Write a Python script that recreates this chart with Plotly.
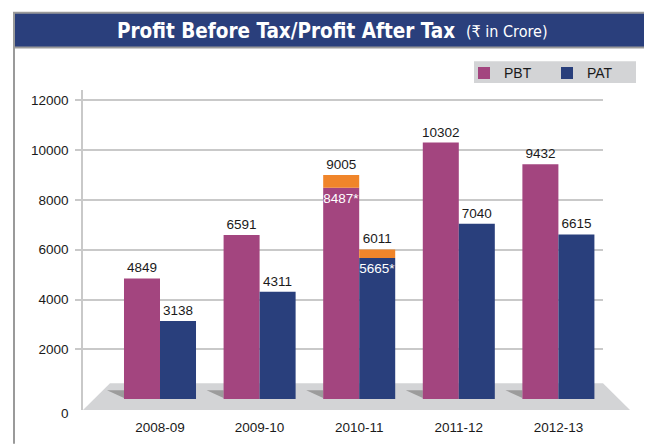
import plotly.graph_objects as go

# ---- data ----
years = ["2008-09", "2009-10", "2010-11", "2011-12", "2012-13"]
pbt = [4849, 6591, 8487, 10302, 9432]
pat = [3138, 4311, 5665, 7040, 6615]
pbt_restated = [None, None, 9005, None, None]
pat_restated = [None, None, 6011, None, None]
ytick_vals = [2000, 4000, 6000, 8000, 10000, 12000]
ytick_text = ["2000", "4000", "6000", "8000", "10000", "12000"]

# ---- colours ----
C_PBT = "#a3457f"
C_PAT = "#293f7c"
C_ORANGE = "#f0852a"
C_BANNER = "#2a3f7c"
C_FLOOR = "#d3d4d6"
C_SHADOW = "#9c9c9c"
C_GRID = "#c9c9c9"
C_FRAME = "#9a9a9a"
FONT = "Liberation Sans, Arial, sans-serif"
NARROW = "DejaVu Sans Condensed, Liberation Sans Narrow, Arial Narrow, sans-serif"

# ---- pixel layout helpers (screen coordinates; page has 8px body margin) ----
OFF = 8
SW, SH = 652, 447
W, H = SW - OFF, SH - OFF
L, R, T, B = 83, 603, 90, 413
Y0PX = 402            # pixel row of value 0 (bars' base)
K = 0.02513           # pixels per unit
ymin = -(B - Y0PX) / K
ymax = (Y0PX - T) / K


def px(x):
    return (x - L) / (R - L)


def py(y):
    return (B - y) / (B - T)


def dy(ypix):
    return (Y0PX - ypix) / K


def label(v, restated):
    return f"{v}*" if restated is not None else f"{v}"


pbt_text = [label(v, r) for v, r in zip(pbt, pbt_restated)]
pat_text = [label(v, r) for v, r in zip(pat, pat_restated)]
pbt_pos = ["inside" if r is not None else "outside" for r in pbt_restated]
pat_pos = ["inside" if r is not None else "outside" for r in pat_restated]

pbt_extra = [(r - v) if r is not None else None for v, r in zip(pbt, pbt_restated)]
pat_extra = [(r - v) if r is not None else None for v, r in zip(pat, pat_restated)]
pbt_extra_text = [f"{r}" if r is not None else "" for r in pbt_restated]
pat_extra_text = [f"{r}" if r is not None else "" for r in pat_restated]

fig = go.Figure()

common = dict(textangle=0, constraintext="none", cliponaxis=False,
              insidetextanchor="end",
              insidetextfont=dict(color="white", size=13.5, family=FONT),
              outsidetextfont=dict(color="#1a1a1a", size=13.5, family=FONT))

fig.add_trace(go.Bar(name="PBT", x=years, y=pbt, marker_color=C_PBT,
                     marker_line_width=0, offsetgroup="a",
                     text=pbt_text, textposition=pbt_pos, **common))
fig.add_trace(go.Bar(name="PAT", x=years, y=pat, marker_color=C_PAT,
                     marker_line_width=0, offsetgroup="b",
                     text=pat_text, textposition=pat_pos, **common))
fig.add_trace(go.Bar(name="PBT restated", x=years, y=pbt_extra, base=pbt,
                     marker_color=C_ORANGE, marker_line_width=0,
                     offsetgroup="a", showlegend=False,
                     text=pbt_extra_text, textposition="outside", **common))
fig.add_trace(go.Bar(name="PAT restated", x=years, y=pat_extra, base=pat,
                     marker_color=C_ORANGE, marker_line_width=0,
                     offsetgroup="b", showlegend=False,
                     text=pat_extra_text, textposition="outside", **common))

shapes = []
# outer frame
shapes.append(dict(type="line", xref="paper", yref="paper",
                   x0=px(14), x1=px(14), y0=py(12), y1=py(447),
                   line=dict(color=C_FRAME, width=2), layer="above"))
shapes.append(dict(type="line", xref="paper", yref="paper",
                   x0=px(650), x1=px(650), y0=py(12), y1=py(447),
                   line=dict(color=C_FRAME, width=2), layer="above"))
# title banner
shapes.append(dict(type="rect", xref="paper", yref="paper",
                   x0=px(14), x1=px(650), y0=py(12), y1=py(47),
                   fillcolor=C_BANNER, line=dict(color=C_FRAME, width=2),
                   layer="above"))
# legend box
shapes.append(dict(type="rect", xref="paper", yref="paper",
                   x0=px(474), x1=px(636), y0=py(61), y1=py(83),
                   fillcolor=C_FLOOR, line=dict(width=0), layer="below"))
# floor
shapes.append(dict(type="path", xref="paper", yref="y",
                   path=(f"M {px(83)},{dy(413)} L {px(630)},{dy(413)} "
                         f"L {px(603)},{dy(386)} L {px(110)},{dy(386)} Z"),
                   fillcolor=C_FLOOR, line=dict(width=0), layer="between"))
# shadows left of each bar group
for i in range(len(years)):
    shapes.append(dict(type="path", xref="x", yref="y",
                       path=(f"M {i-0.532},{dy(393)} L {i-0.3614},{dy(393)} "
                             f"L {i-0.3614},{dy(401)} Z"),
                       fillcolor=C_SHADOW, line=dict(width=0), layer="between"))

annotations = [
    dict(xref="paper", yref="paper", x=px(457), y=py(30), xanchor="right",
         yanchor="middle", showarrow=False,
         text="<b>Profit Before Tax/Profit After Tax</b>",
         font=dict(family=NARROW, size=20.5, color="white")),
    dict(xref="paper", yref="paper", x=px(464), y=py(31), xanchor="left",
         yanchor="middle", showarrow=False, text="(₹ in Crore)",
         font=dict(family=NARROW, size=16, color="white")),
    dict(xref="paper", yref="paper", x=px(71), y=py(417), xanchor="right",
         yanchor="middle", showarrow=False, text="0",
         font=dict(family=FONT, size=13.5, color="#1a1a1a")),
]

fig.update_layout(
    width=W, height=H,
    margin=dict(l=L - OFF, r=SW - R, t=T - OFF, b=SH - B, pad=0),
    paper_bgcolor="white", plot_bgcolor="white",
    barmode="group", bargap=0.277, bargroupgap=0,
    font=dict(family=FONT, size=13.5, color="#1a1a1a"),
    shapes=shapes, annotations=annotations,
    legend=dict(orientation="h", x=px(464), xanchor="left",
                y=py(57), yanchor="top", bgcolor="rgba(0,0,0,0)",
                font=dict(size=14, family=FONT, color="#1a1a1a"),
                entrywidth=38, itemwidth=30, tracegroupgap=0),
    xaxis=dict(type="category", range=[(L - 160) / 99.6, (R - 160) / 99.6],
               showgrid=False, showline=False, ticks="", zeroline=False,
               tickfont=dict(size=13.5), ticklabelstandoff=7),
    yaxis=dict(range=[ymin, ymax], tickvals=ytick_vals, ticktext=ytick_text,
               showgrid=True, gridcolor=C_GRID, gridwidth=1.5,
               showline=True, linecolor=C_GRID, linewidth=1.5,
               ticks="outside", ticklen=6, tickcolor=C_GRID, tickwidth=1.5,
               zeroline=False, tickfont=dict(size=13.5), ticklabelstandoff=4),
)

fig.write_html("out.html")
